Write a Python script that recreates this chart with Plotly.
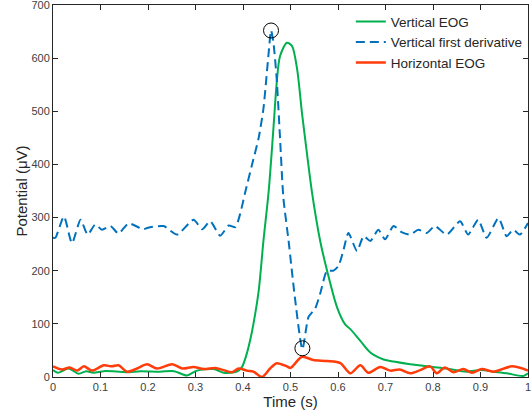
import plotly.graph_objects as go

# Vertical first derivative (blue dashed)
deriv_t = [0.0, 0.005, 0.023, 0.04, 0.058, 0.073, 0.089, 0.103, 0.121, 0.138, 0.159, 0.19, 0.2,
           0.233, 0.261, 0.296, 0.314, 0.331, 0.352, 0.37, 0.384, 0.394, 0.405, 0.422, 0.433,
           0.443, 0.454, 0.459, 0.464, 0.471, 0.478, 0.485, 0.496, 0.51, 0.525, 0.538, 0.552,
           0.5625, 0.577, 0.59, 0.601, 0.611, 0.622, 0.64, 0.654, 0.668, 0.685, 0.699, 0.717,
           0.735, 0.752, 0.769, 0.787, 0.804, 0.829, 0.857, 0.874, 0.895, 0.913, 0.938, 0.955,
           0.969, 0.983, 1.0]
deriv_v = [262, 262, 302, 252, 296, 268, 287, 277, 284, 270, 289, 278, 281,
           284, 268, 296, 278, 293, 266, 285, 282, 307, 349, 410, 450,
           505, 610, 652, 630, 560, 449, 337, 256, 144, 52, 113, 129,
           157, 200, 200, 209, 237, 271, 237, 265, 256, 277, 259, 284,
           272, 268, 277, 271, 284, 268, 293, 268, 296, 262, 299, 265,
           277, 268, 290]

# Vertical EOG (green)
veog_t = [0.0, 0.01, 0.033, 0.054, 0.07, 0.085, 0.107, 0.14, 0.16, 0.184, 0.225, 0.255, 0.282,
          0.303, 0.338, 0.359, 0.387, 0.398, 0.408, 0.415, 0.422, 0.433, 0.443, 0.454, 0.464,
          0.471, 0.478, 0.4925, 0.503, 0.514, 0.524, 0.535, 0.545, 0.5625, 0.577, 0.598, 0.615,
          0.626, 0.647, 0.668, 0.696, 0.717, 0.752, 0.8, 0.829, 0.871, 0.9, 0.927, 0.955, 0.99, 1.0]
veog_v = [13, 8, 16, 6, 11, 8, 11, 10, 9, 11, 10, 11, 3,
          12, 15, 8, 10, 19, 44, 69, 100, 162, 256, 349, 467,
          554, 604, 629, 623, 579, 498, 418, 349, 256, 200, 131, 99,
          90, 68, 46, 33, 29, 24, 19, 16, 10, 13, 10, 7, 2, 7]

# Horizontal EOG (red)
heog_t = [0.0, 0.019, 0.035, 0.051, 0.065, 0.082, 0.107, 0.124, 0.138, 0.156, 0.177, 0.198, 0.219,
          0.251, 0.272, 0.296, 0.317, 0.342, 0.359, 0.377, 0.391, 0.408, 0.422, 0.44, 0.457,
          0.471, 0.4925, 0.5, 0.524, 0.548, 0.577, 0.605, 0.626, 0.647, 0.664, 0.689, 0.71,
          0.73, 0.752, 0.773, 0.794, 0.808, 0.825, 0.843, 0.864, 0.882, 0.903, 0.927, 0.966, 1.0]
heog_v = [20, 14, 18, 12, 20, 12, 22, 20, 22, 10, 16, 24, 16,
          24, 16, 19, 15, 17, 13, 9, 16, 12, 10, 0, 16,
          26, 20, 17, 38, 32, 30, 26, 7, 22, 8, 19, 12,
          14, 7, 13, 20, 7, 18, 9, 15, 8, 15, 10, 20, 12]

# Circled extrema of the derivative
mark_t = [0.459, 0.525]
mark_v = [652, 54]

x_ticks = [0, 0.1, 0.2, 0.3, 0.4, 0.5, 0.6, 0.7, 0.8, 0.9, 1]
x_labels = ["0", "0.1", "0.2", "0.3", "0.4", "0.5", "0.6", "0.7", "0.8", "0.9", "1"]
y_ticks = [0, 100, 200, 300, 400, 500, 600, 700]

fig = go.Figure()
fig.add_trace(go.Scatter(x=veog_t, y=veog_v, mode="lines", name="Vertical EOG",
                         line=dict(color="#00b04f", width=2, shape="spline", smoothing=0.8)))
fig.add_trace(go.Scatter(x=deriv_t, y=deriv_v, mode="lines", name="Vertical first derivative",
                         line=dict(color="#0072bd", width=2, dash="9px,5px", shape="spline", smoothing=0.6)))
fig.add_trace(go.Scatter(x=heog_t, y=heog_v, mode="lines", name="Horizontal EOG",
                         line=dict(color="#ff3c0a", width=2.5, shape="spline", smoothing=0.8)))
fig.add_trace(go.Scatter(x=mark_t, y=mark_v, mode="markers", showlegend=False,
                         marker=dict(symbol="circle-open", size=15, color="black", line=dict(width=1))))

axis_common = dict(showline=True, linecolor="#262626", linewidth=1, mirror="ticks",
                   ticks="inside", ticklen=5, tickwidth=1, tickcolor="#262626",
                   showgrid=False, zeroline=False, ticklabeloverflow="allow",
                   tickfont=dict(family="Liberation Sans, Arial", size=11, color="#404040"))

fig.update_layout(
    width=532, height=415,
    margin=dict(l=53, r=4, t=5, b=38),
    paper_bgcolor="white", plot_bgcolor="white",
    font=dict(family="Liberation Sans, Arial", color="#262626"),
    showlegend=True,
    legend=dict(x=0.627, xanchor="left", y=0.997, yanchor="top",
                bgcolor="rgba(0,0,0,0)", borderwidth=0, tracegroupgap=0,
                font=dict(family="Liberation Sans, Arial", size=13.5, color="#262626")),
    xaxis=dict(range=[0, 1], tickvals=x_ticks, ticktext=x_labels, automargin=False,
               title=dict(text="Time (s)", font=dict(size=15, color="#262626"), standoff=2),
               **axis_common),
    yaxis=dict(range=[0, 700], tickvals=y_ticks, automargin=False,
               title=dict(text="Potential (μV)", font=dict(size=15, color="#262626"), standoff=0),
               **axis_common),
)

fig.write_html("out.html", config={"displayModeBar": False},
               post_script="document.body.style.margin='0';document.body.style.padding='0';document.body.style.overflow='hidden';")
